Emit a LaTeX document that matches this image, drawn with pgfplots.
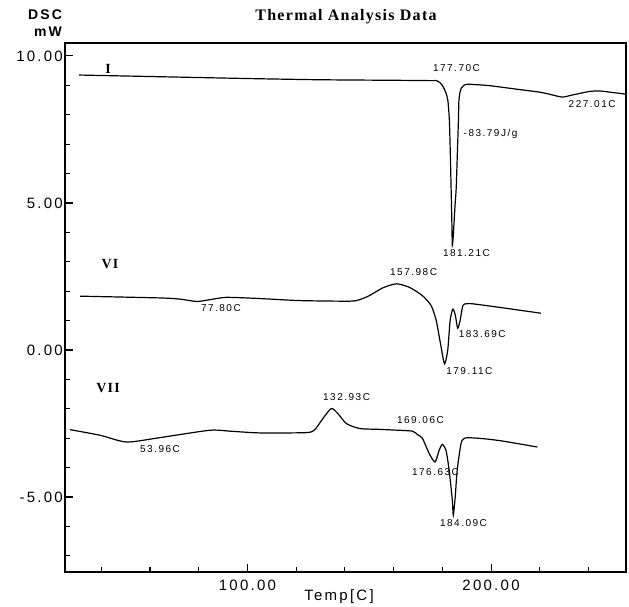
\documentclass[border=0pt]{standalone}
\usepackage{pgfplots}
\pgfplotsset{compat=1.18}
\usepackage{fontspec}
\setmainfont{Liberation Serif}
\newfontfamily\sansls[LetterSpace=15]{Liberation Sans}
\newfontfamily\serifls[LetterSpace=8]{Liberation Serif}
\tikzset{pk/.style={font=\fontsize{10}{12}\sansls, inner sep=1pt}}
\begin{document}
\begin{tikzpicture}
\begin{axis}[
 scale only axis, width=561pt, height=529pt,
 xmin=25.1, xmax=255.4, ymin=-7.55, ymax=10.44,
 axis line style={line width=1.1pt, black},
 xtick={100,200}, xticklabels={100.00,200.00},
 minor xtick={40,60,80,120,140,160,180,220,240},
 ytick={-5,0,5,10}, yticklabels={-5.00,0.00,5.00,10.00},
 minor ytick={-7,-6,-4,-3,-2,-1,1,2,3,4,6,7,8,9},
 tick align=inside,
 tick pos=left,
 major tick length=8pt, minor tick length=5pt,
 major tick style={line width=1.1pt, black},
 minor tick style={line width=1.1pt, black},
 xticklabel style={font=\fontsize{15}{18}\sansls, inner sep=0pt, yshift=-8pt},
 yticklabel style={font=\fontsize{15}{18}\sansls, inner sep=0pt, xshift=-2pt},
 clip=false,
]
\draw[line width=1.1pt, black] (rel axis cs:0,0) rectangle (rel axis cs:1,1);
% Curve I
\addplot[black, line width=1.2pt, smooth, tension=0.35] coordinates {
(30.9,9.35) (60.0,9.30) (100.9,9.23) (129.6,9.19) (162.4,9.17) (175.5,9.16)
(177.6,9.16) (179.2,9.08) (180.4,8.94) (181.5,8.74) (182.3,8.47) (182.9,7.79)
(183.3,6.60) (183.6,5.51) (183.9,4.39) (184.1,3.55)
(184.5,3.89) (185.2,4.90) (185.7,5.51) (186.2,6.77) (186.6,7.79) (186.8,8.47)
(187.2,8.74) (187.8,8.91) (189.0,9.01) (190.3,9.04)
(199.3,8.99) (210.4,8.87) (219.8,8.77) (223.9,8.70) (229.2,8.60) (233.3,8.67)
(240.3,8.79) (244.4,8.81) (250.5,8.75) (255.4,8.70)
};
% Curve VI
\addplot[black, line width=1.2pt, smooth, tension=0.4] coordinates {
(31.3,1.83) (64.1,1.77) (72.3,1.73) (79.1,1.65) (84.5,1.71) (91.4,1.79)
(105.0,1.75) (121.4,1.68) (141.9,1.66) (146.0,1.71) (150.1,1.85) (155.5,2.11)
(161.1,2.25) (166.5,2.13) (171.8,1.85) (175.4,1.51) (177.5,1.00) (179.5,0.10)
(180.9,-0.47) (182.2,-0.02) (183.2,1.00) (184.3,1.39) (185.3,1.20)
(186.3,0.74) (187.3,1.00) (188.4,1.51) (189.8,1.57) (192.5,1.57)
(203.4,1.45) (220.5,1.25)
};
% Curve VII
\addplot[black, line width=1.2pt, smooth, tension=0.4] coordinates {
(27.2,-2.71) (39.5,-2.90) (50.4,-3.13) (64.1,-2.98) (84.5,-2.73) (92.7,-2.76)
(105.0,-2.82) (124.2,-2.81) (127.6,-2.71) (131.0,-2.33) (134.4,-1.99)
(137.1,-2.16) (140.6,-2.50) (146.0,-2.67) (154.2,-2.70) (159.5,-2.72)
(167.7,-2.76) (169.8,-2.88) (171.8,-3.00) (174.6,-3.52) (177.0,-3.81)
(178.7,-3.41) (180.0,-3.21) (181.5,-3.41) (182.8,-4.09) (184.1,-5.11)
(184.5,-5.62) (185.3,-4.99) (186.1,-4.09) (187.7,-3.18) (189.4,-2.99)
(196.0,-3.01) (204.2,-3.09) (219.0,-3.30)
};
% Curve names
\node[font=\fontsize{14}{16}\serifls\bfseries] at (axis cs:42.8,9.55) {I};
\node[font=\fontsize{14}{16}\serifls\bfseries] at (axis cs:43.6,2.94) {VI};
\node[font=\fontsize{14}{16}\serifls\bfseries] at (axis cs:42.8,-1.31) {VII};
% Peak labels
\node[pk] at (axis cs:185.8,9.59) {177.70C};
\node[pk] at (axis cs:241.5,8.36) {227.01C};
\node[pk] at (axis cs:199.8,7.34) {-83.79J/g};
\node[pk] at (axis cs:189.9,3.31) {181.21C};
\node[pk] at (axis cs:168.2,2.66) {157.98C};
\node[pk] at (axis cs:89.1,1.44) {77.80C};
\node[pk] at (axis cs:196.4,0.53) {183.69C};
\node[pk] at (axis cs:191.1,-0.73) {179.11C};
\node[pk] at (axis cs:140.7,-1.61) {132.93C};
\node[pk] at (axis cs:171.0,-2.39) {169.06C};
\node[pk] at (axis cs:64.1,-3.38) {53.96C};
\node[pk] at (axis cs:177.2,-4.16) {176.63C};
\node[pk] at (axis cs:188.7,-5.89) {184.09C};
\end{axis}
\node[font=\fontsize{16}{19}\serifls\bfseries] at (281pt,555pt) {Thermal Analysis Data};
\node[font=\fontsize{14}{16}\sansls\bfseries] at (-20pt,557pt) {DSC};
\node[font=\fontsize{14}{16}\sansls\bfseries] at (-17pt,540pt) {mW};
\node[font=\fontsize{15}{18}\sansls] at (274pt,-25pt) {Temp[C]};
\pgfresetboundingbox
\useasboundingbox (-65pt,-35pt) rectangle (564pt,572pt);
\end{tikzpicture}
\end{document}
